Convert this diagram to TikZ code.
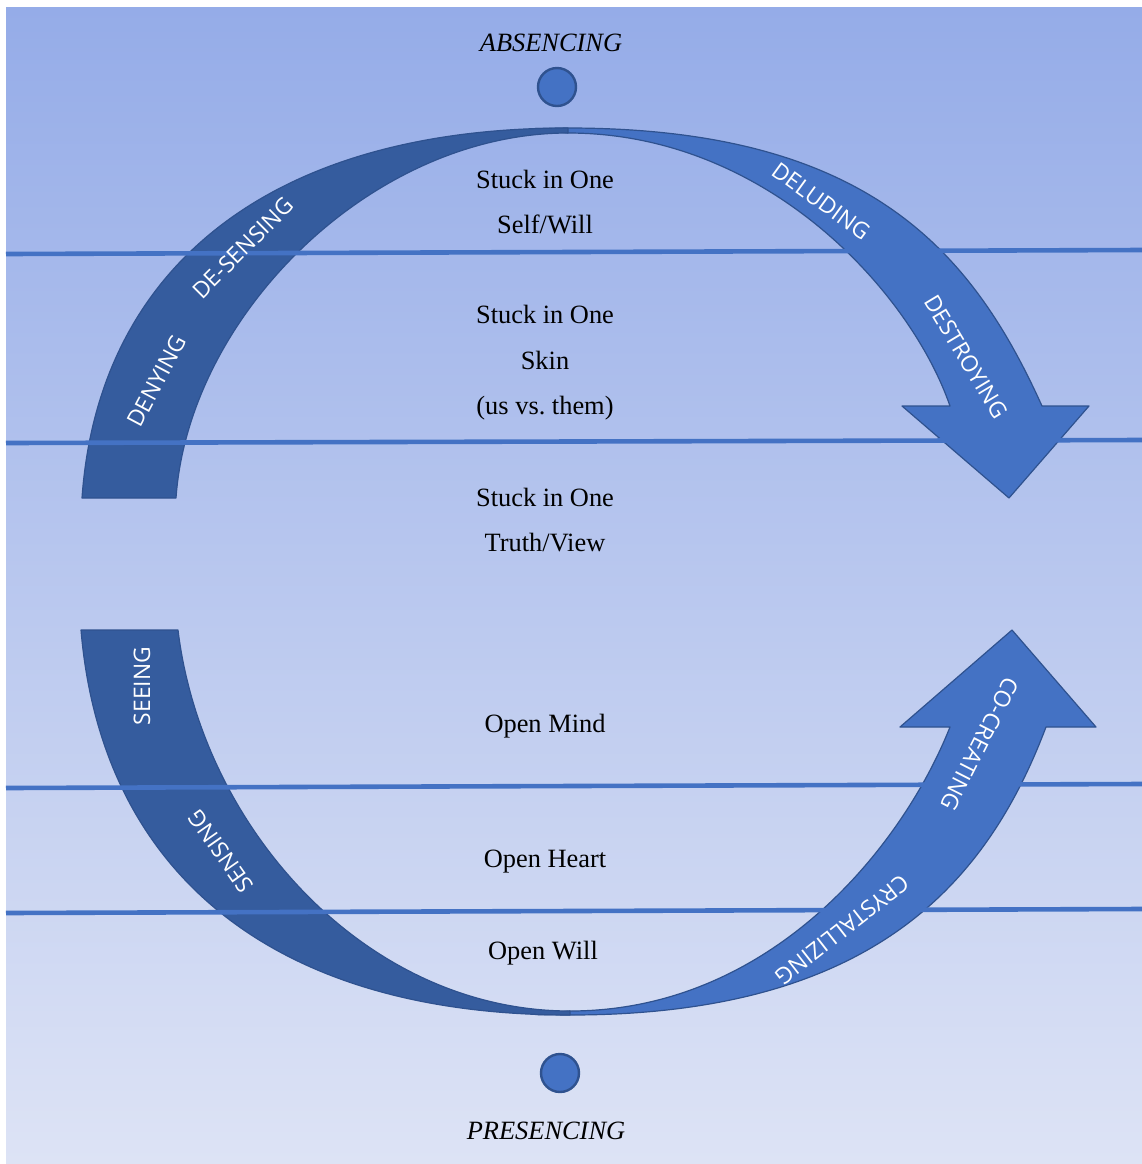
\documentclass[tikz,border=0pt]{standalone}
\usepackage{fontspec}
\setmainfont{Liberation Serif}
\newfontfamily\capsfont{Open Sans}

\definecolor{BgTop}{RGB}{149,172,232}
\definecolor{BgBottom}{RGB}{221,227,245}
\definecolor{BandDark}{RGB}{53,92,158}
\definecolor{BandLight}{RGB}{68,114,196}
\definecolor{BandLine}{RGB}{47,82,143}

\begin{document}
\begin{tikzpicture}[x=0.5pt, y=-0.5pt]
\useasboundingbox (0,0) rectangle (1142,1164);
\shade[top color=BgTop, bottom color=BgBottom] (6,7) rectangle (1142,1163);

\coordinate (T_1) at (568,128);
\coordinate (T_2) at (568,133);
\coordinate (T_3) at (535,128.6);
\coordinate (A_1) at (82,498);
\coordinate (A_2) at (176,498);
\coordinate (B_1) at (1042,406);
\coordinate (B_2) at (950,406);
\coordinate (H_1) at (1089,406);
\coordinate (H_2) at (902,406);
\coordinate (H_3) at (1009,498);
\coordinate (U_1) at (570,1015);
\coordinate (U_2) at (570,1011);
\coordinate (U_3) at (535,1014.6);
\coordinate (C_1) at (81,630);
\coordinate (C_2) at (178,630);
\coordinate (D_1) at (1046,727);
\coordinate (D_2) at (950,727);
\coordinate (G_1) at (1096,727);
\coordinate (G_2) at (900,727);
\coordinate (G_3) at (1012,630);


\tikzset{BandStyle/.style = {draw=BandLine, line width=0.6pt, line join=round} }

% light arrows first, the dark bands lie over their ends
\path[BandStyle, fill=BandLight] (T_3) -- (T_1) .. controls (868,128) and (972,251) .. (B_1)
  -- (H_1) -- (H_3) -- (H_2) -- (B_2) .. controls (911,293) and (768,133) .. (T_2) -- cycle;
\path[BandStyle, fill=BandLight] (U_3) -- (U_1) .. controls (870,1015) and (986,886) .. (D_1)
  -- (G_1) -- (G_3) -- (G_2) -- (D_2) .. controls (902,848) and (770,1011) .. (U_2) -- cycle;

\path[BandStyle, fill=BandDark] (A_1) .. controls (98,270) and (267,128) .. (T_1)
  -- (T_2) .. controls (372,133) and (189,315) .. (A_2) -- cycle;
\path[BandStyle, fill=BandDark] (C_1) .. controls (101,868) and (267,1015) .. (U_1)
  -- (U_2) .. controls (366,1011) and (202,828) .. (C_2) -- cycle;


\tikzset{LevelStyle/.style = {draw=BandLight, line width=2.3pt} }

\coordinate (L1_1) at (6,254);   \coordinate (L1_2) at (1142,250);
\coordinate (L2_1) at (6,443);   \coordinate (L2_2) at (1142,440);
\coordinate (L3_1) at (6,788);   \coordinate (L3_2) at (1142,784);
\coordinate (L4_1) at (6,913);   \coordinate (L4_2) at (1142,909);
\draw[LevelStyle] (L1_1) -- (L1_2);
\draw[LevelStyle] (L2_1) -- (L2_2);
\draw[LevelStyle] (L3_1) -- (L3_2);
\draw[LevelStyle] (L4_1) -- (L4_2);


\tikzset{StepStyle/.style = {
 text = white,
 inner sep = 0pt,
 font = \capsfont\fontsize{11.4}{13}\selectfont} }

\node[StepStyle, rotate=62] (S1) at (157,381) {DENYING};
\node[StepStyle, rotate=45] (S2) at (243,248) {DE-SENSING};
\node[StepStyle, rotate=-36] (S3) at (821,201) {DELUDING};
\node[StepStyle, rotate=-59] (S4) at (966,357) {DESTROYING};
\node[StepStyle, rotate=90] (S5) at (142,686) {SEEING};
\node[StepStyle, rotate=125] (S6) at (221,851) {SENSING};
\node[StepStyle, rotate=218] (S7) at (842,930) {CRYSTALLIZING};
\node[StepStyle, rotate=243] (S8) at (980,744) {CO-CREATING};


\tikzset{LevelText/.style = {
 align = center,
 inner sep = 0pt,
 font = \fontsize{13.2}{22.8}\selectfont} }

\node[LevelText] (F1) at (545,202) {Stuck in One\\Self/Will};
\node[LevelText] (F2) at (545,363) {Stuck in One\\Skin\\(us vs.\ them)};
\node[LevelText] (F3) at (545,520) {Stuck in One\\Truth/View};
\node[LevelText] (F4) at (545,726) {Open Mind};
\node[LevelText] (F5) at (545,862) {Open Heart};
\node[LevelText] (F6) at (543,953) {Open Will};


\tikzset{PoleStyle/.style = {
 shape = circle,
 fill = BandLight,
 draw = BandLine,
 line width = 1.2pt,
 inner sep = 0pt,
 minimum size = 19pt} }

\node[PoleStyle] (P1) at (557,87) {};
\node[PoleStyle] (P2) at (560,1073) {};
\node[font=\itshape\fontsize{13.2}{16}\selectfont] (N1) at (551,43) {ABSENCING};
\node[font=\itshape\fontsize{13.2}{16}\selectfont] (N2) at (546,1131) {PRESENCING};

\end{tikzpicture}
\end{document}
